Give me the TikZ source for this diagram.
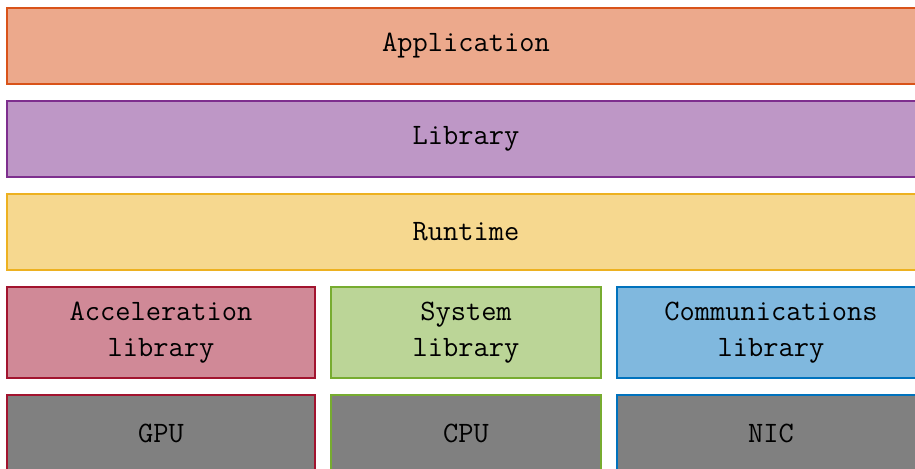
\documentclass[tikz,border=0pt]{standalone}
\usepackage{fontspec}
\definecolor{morange}{HTML}{D95319}
\definecolor{mpurple}{HTML}{7E2F8E}
\definecolor{myellow}{HTML}{EDB120}
\definecolor{mred}{HTML}{A2142F}
\definecolor{mgreen}{HTML}{77AC30}
\definecolor{mblue}{HTML}{0072BD}
\begin{document}
\begin{tikzpicture}[x=0.5pt,y=-0.5pt,
  layer/.style={draw=#1, fill=#1!50, line width=1.1pt, inner sep=0pt, align=center,
    font=\ttfamily\fontsize{14.8}{17.8}\selectfont},
  hw/.style={draw=#1, fill=gray, line width=1.1pt, inner sep=0pt, align=center,
    font=\ttfamily\fontsize{14.8}{17.8}\selectfont},
  wide/.style={minimum width=459pt, minimum height=38pt},
  sidecol/.style={minimum width=154pt},
  midcol/.style={minimum width=135pt}]
\useasboundingbox (0,0) rectangle (915,469);
\node[layer=morange, wide] (app) at (466,46) {Application};
\node[layer=mpurple, wide] (lib) at (466,139) {Library};
\node[layer=myellow, wide] (rt) at (466,232) {Runtime};
\node[layer=mred, sidecol, minimum height=45.5pt] (acc) at (161,332.5) {Acceleration\\library};
\node[layer=mgreen, midcol, minimum height=45.5pt] (sys) at (466,332.5) {System\\library};
\node[layer=mblue, sidecol, minimum height=45.5pt] (com) at (771,332.5) {Communications\\library};
\node[hw=mred, sidecol, minimum height=38.5pt] (gpu) at (161,433.5) {GPU};
\node[hw=mgreen, midcol, minimum height=38.5pt] (cpu) at (466,433.5) {CPU};
\node[hw=mblue, sidecol, minimum height=38.5pt] (nic) at (771,433.5) {NIC};
\end{tikzpicture}
\end{document}
